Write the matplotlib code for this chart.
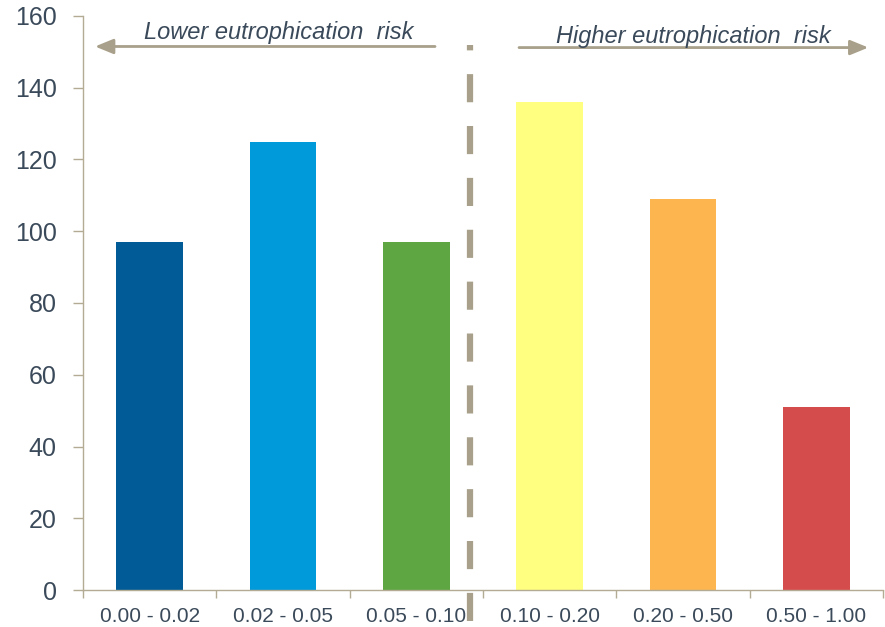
import matplotlib.pyplot as plt
import numpy as np

plt.rcParams['font.family'] = ['Liberation Sans', 'DejaVu Sans']

# nutrient ratio classes and number of sites per class
classes = ['0.00 - 0.02', '0.02 - 0.05', '0.05 - 0.10',
           '0.10 - 0.20', '0.20 - 0.50', '0.50 - 1.00']
counts = [97, 125, 97, 136, 109, 51]
colors = ['#005b96', '#0099da', '#5ea642', '#ffff80', '#fdb64f', '#d44c4c']

axis_col = '#b3ab93'
text_col = '#3b4a5a'

fig = plt.figure(figsize=(8.85, 6.27), dpi=100)
ax = fig.add_axes([0.0938, 0.059, 0.904, 0.9155])

x = np.arange(len(classes))
ax.bar(x, counts, width=0.5, color=colors, zorder=2)

ax.set_xlim(-0.5, len(classes) - 0.5)
ax.set_ylim(0, 160)
ax.set_yticks(range(0, 161, 20))

ax.set_xticks(x)
ax.set_xticklabels(classes)
ax.set_xticks(np.arange(-0.5, len(classes)), minor=True)
ax.tick_params(axis='x', which='major', length=0, pad=12, labelsize=15, labelcolor=text_col)
ax.tick_params(axis='x', which='minor', length=6, width=1, color=axis_col)
ax.tick_params(axis='y', length=7, width=1, color=axis_col, pad=12, labelsize=18, labelcolor=text_col)

for s in ['top', 'right']:
    ax.spines[s].set_visible(False)
for s in ['left', 'bottom']:
    ax.spines[s].set_color(axis_col)
    ax.spines[s].set_linewidth(1)

# divider between low and high risk classes
ax.plot([2.4, 2.4], [-8.5, 152], color='#a8a08a', lw=4.5, dashes=(4.5, 3.8),
        clip_on=False, zorder=3)

# direction arrows with captions
ax.annotate('', xy=(-0.41, 151.5), xytext=(2.14, 151.5),
            arrowprops=dict(arrowstyle='-|>,head_length=1.1,head_width=0.45',
                            color='#a8a08a', lw=2, shrinkA=0, shrinkB=0))
ax.annotate('', xy=(5.39, 151.2), xytext=(2.77, 151.2),
            arrowprops=dict(arrowstyle='-|>,head_length=1.1,head_width=0.45',
                            color='#a8a08a', lw=2, shrinkA=0, shrinkB=0))
ax.text(0.97, 155.4, 'Lower eutrophication  risk', ha='center', va='center',
        style='italic', fontsize=17, color=text_col)
ax.text(4.08, 154.4, 'Higher eutrophication  risk', ha='center', va='center',
        style='italic', fontsize=17, color=text_col)

fig.savefig('out.png', dpi=100)
